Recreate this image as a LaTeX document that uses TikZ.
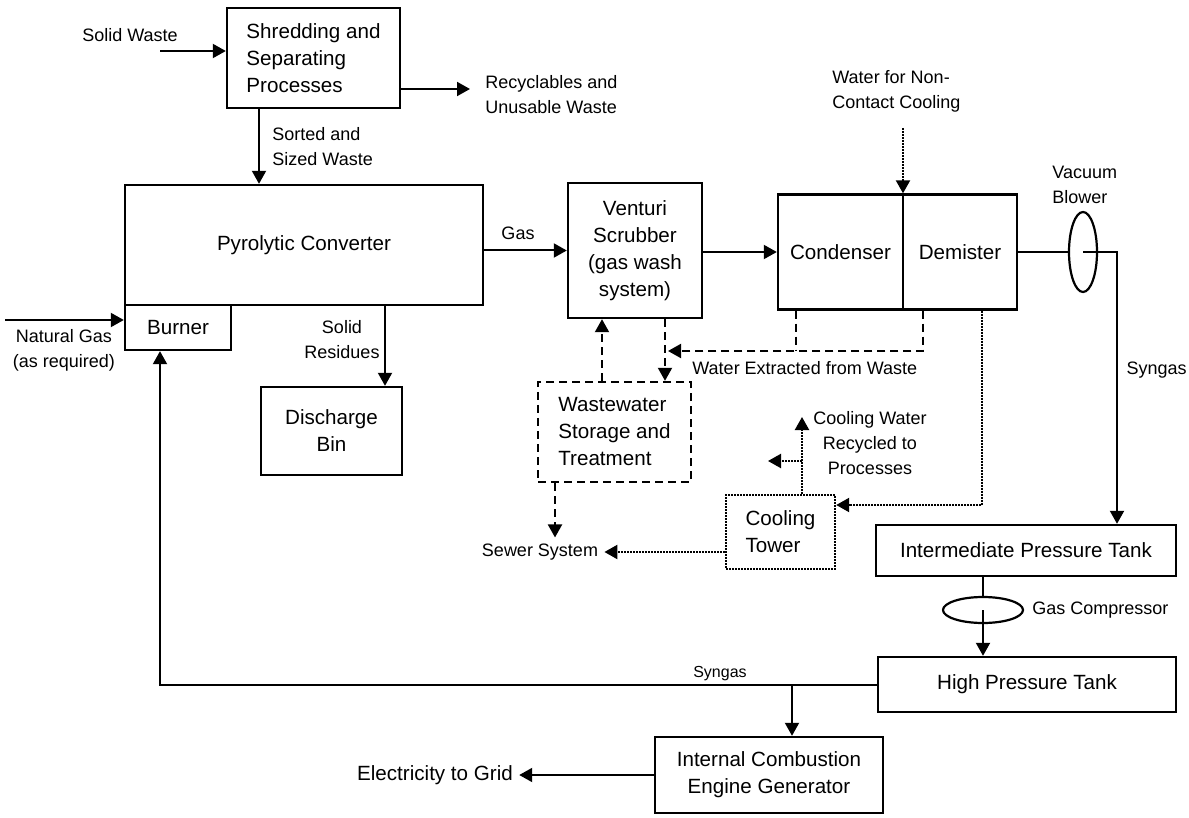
\documentclass[tikz,border=0pt]{standalone}
\usepackage{fontspec}
\setmainfont{Liberation Sans}
\usetikzlibrary{arrows.meta,
                shapes.geometric}
\newcommand\bxfont{\fontsize{10.3}{13.5}\selectfont}
\newcommand\lbfont{\fontsize{9}{12.5}\selectfont}
\newcommand\smfont{\fontsize{8}{10}\selectfont}

\begin{document}
\begin{tikzpicture}[x=0.5pt, y=-0.5pt,
blk/.style     = {draw, line width=1.2pt, align=center, font=\bxfont, inner sep=2pt},
lbl/.style     = {align=center, font=\lbfont, inner sep=1pt},
ell/.style     = {draw, ellipse, line width=1.1pt, inner sep=0pt},
conn/.style    = {line width=1pt},
arr/.style     = {conn, -{Triangle[length=6.5pt,width=7pt]}},
dasharr/.style = {arr, dash pattern=on 4pt off 2.5pt},
dotarr/.style  = {arr, line width=1.1pt, dash pattern=on 1pt off 0.5pt}
                    ]
\useasboundingbox (0,0) rectangle (1189,818);
% process boxes
\node[blk, align=left, minimum width=86.5pt, minimum height=50pt] (shred) at (313.5,58) {Shredding and\\Separating\\Processes};
\node[blk, minimum width=179pt, minimum height=60pt] (pyro) at (304,245) {Pyrolytic Converter};
\node[blk, minimum width=53pt, minimum height=22.5pt] (burner) at (178,327.5) {Burner};
\node[blk, minimum width=70.5pt, minimum height=44pt] (dis) at (331.5,431) {Discharge\\Bin};
\node[blk, minimum width=67pt, minimum height=67.5pt] (ven) at (635,250.5) {Venturi\\Scrubber\\(gas wash\\system)};
\node[blk, minimum width=62.5pt, minimum height=57.5pt] (cond) at (840.5,252) {Condenser};
\node[blk, minimum width=57pt, minimum height=57.5pt] (dem) at (960,252) {Demister};
\node[ell, minimum width=14pt, minimum height=40pt] (blower) at (1083,252) {};
\node[blk, minimum width=150pt, minimum height=25.5pt] (ipt) at (1026,550.5) {Intermediate Pressure Tank};
\node[ell, minimum width=40pt, minimum height=13pt] (comp) at (983,610) {};
\node[blk, minimum width=149pt, minimum height=27.5pt] (hpt) at (1027,684.5) {High Pressure Tank};
\node[blk, minimum width=114pt, minimum height=38pt] (ice) at (769,775) {Internal Combustion\\Engine Generator};
\node[blk, align=left, dash pattern=on 4pt off 2.5pt, minimum width=76.5pt, minimum height=50pt] (ww) at (614.5,432) {Wastewater\\Storage and\\Treatment};
\node[blk, align=left, dash pattern=on 1pt off 0.5pt, minimum width=54.5pt, minimum height=37pt] (tower) at (780.5,532) {Cooling\\Tower};
% labels
\node[lbl] (solidw) at (130,35) {Solid Waste};
\node[lbl, anchor=west, align=left] (recyc) at (483,95) {Recyclables and\\Unusable Waste};
\node[lbl, anchor=west, align=left] (sorted) at (270,147) {Sorted and\\Sized Waste};
\node[lbl] (natgas) at (64,350) {Natural Gas\\(as required)};
\node[lbl] (resid) at (342,340) {Solid\\Residues};
\node[lbl] (gaslbl) at (518,233) {Gas};
\node[lbl, anchor=west, align=left] (wcool) at (830,91) {Water for Non-\\Contact Cooling};
\node[lbl, anchor=west, align=left] (vaclbl) at (1050,185) {Vacuum\\Blower};
\node[lbl, anchor=east, inner sep=0pt] (syn1) at (1187,370) {Syngas};
\node[lbl, anchor=west] (complbl) at (1030,610) {Gas Compressor};
\node[lbl, font=\smfont] (syn2) at (720,674) {Syngas};
\node[lbl, font=\bxfont, inner sep=3pt] (elec) at (435,775) {Electricity to Grid};
\node[lbl, anchor=west] (extr) at (690,368) {Water Extracted from Waste};
\node[lbl] (coolrec) at (870,443) {Cooling Water\\Recycled to\\Processes};
\node[lbl, inner sep=3pt] (sewer) at (540,552) {Sewer System};
% free ends
\coordinate (sw) at (160,51);
\coordinate (rc) at (470,89);
\coordinate (ng) at (5,320);
\coordinate (wc) at (903,128);
\coordinate (wx) at (923,351);
\coordinate (cw) at (802,417);
\coordinate (cb) at (802,461);
% solid flow
\draw[arr] (sw) -- (sw -| shred.west);
\draw[arr] (rc -| shred.east) -- (rc);
\draw[arr] (259,0 |- shred.south) -- (259,0 |- pyro.north);
\draw[arr] (ng) -- (ng -| burner.west);
\draw[arr] (385,0 |- pyro.south) -- (385,0 |- dis.north);
% gas flow
\draw[arr] (pyro.east |- ven) -- (ven.west);
\draw[arr] (ven.east |- cond) -- (cond.west);
\draw[conn] (dem.east) -- (blower.west);
\draw[arr] (blower.center) -- (1117,0 |- blower.center) -- (1117,0 |- ipt.north);
\draw[conn] (ipt.south -| comp) -- (comp.north);
\draw[arr] (comp.center) -- (comp |- hpt.north);
\draw[arr] (hpt.west) -- (160,0 |- hpt.west) -- (160,0 |- burner.south);
\draw[arr] (792,0 |- hpt.west) -- (792,0 |- ice.north);
\draw[arr] (ice.west) -- (elec.east);
% water
\draw[dasharr] (602,0 |- ww.north) -- (602,0 |- ven.south);
\draw[dasharr] (665,0 |- ven.south) -- (665,0 |- ww.north);
\draw[conn, dash pattern=on 4pt off 2.5pt] (796,0 |- cond.south) -- (796,0 |- wx);
\draw[dasharr] (wx |- dem.south) -- (wx) -- (668,0 |- wx);
\draw[dasharr] (555,0 |- ww.south) -- (555,0 |- sewer.north);
\draw[dotarr] (wc) -- (wc |- cond.north);
\draw[dotarr] (982,0 |- dem.south) -- (982,505) -- (tower.east |- 0,505);
\draw[dotarr] (tower.west |- sewer) -- (sewer.east);
\draw[dotarr] (cw |- tower.north) -- (cw);
\draw[dotarr] (cb) -- (768,0 |- cb);
\end{tikzpicture}
\end{document}
